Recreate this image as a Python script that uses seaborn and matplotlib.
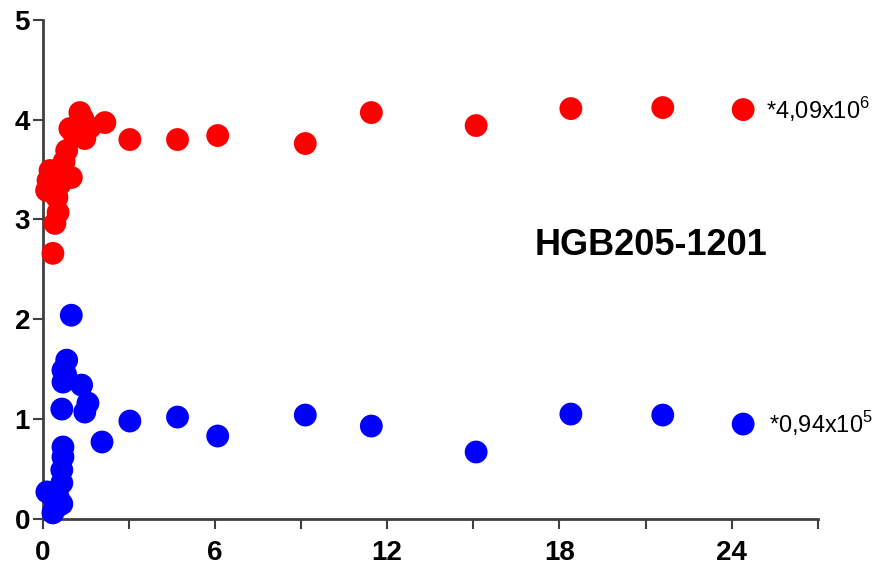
import matplotlib
matplotlib.use("Agg")
import matplotlib.pyplot as plt
import seaborn as sns
import pandas as pd

# red series (upper)
red_x = [0.36, 0.14, 0.19, 0.26, 0.43, 0.50, 0.54, 0.67, 0.84, 0.95, 1.00, 1.30, 1.40,
         1.47, 1.65, 2.17, 3.04, 4.7, 6.1, 9.15, 11.45, 15.1, 18.4, 21.6, 24.4,
         0.30, 0.60, 0.75, 1.10]
red_y = [2.66, 3.29, 3.39, 3.49, 2.96, 3.22, 3.07, 3.49, 3.69, 3.91, 3.42, 4.07, 4.01,
         3.81, 3.92, 3.97, 3.80, 3.80, 3.84, 3.76, 4.07, 3.94, 4.11, 4.12, 4.10,
         3.35, 3.35, 3.58, 3.85]

# blue series (lower)
blue_x = [0.36, 0.50, 0.54, 0.67, 0.15, 0.67, 0.67, 0.71, 0.71, 0.67, 0.71, 0.71, 0.84,
          1.00, 1.36, 1.58, 1.47, 2.07, 3.04, 4.7, 6.1, 9.15, 11.45, 15.1, 18.4, 21.6, 24.4,
          0.40, 0.80]
blue_y = [0.06, 0.12, 0.22, 0.15, 0.27, 0.36, 0.49, 0.62, 0.72, 1.10, 1.37, 1.49, 1.59,
          2.04, 1.34, 1.16, 1.07, 0.77, 0.98, 1.02, 0.83, 1.04, 0.93, 0.67, 1.05, 1.04, 0.95,
          0.20, 1.45]

x_ticks = [0, 3, 6, 9, 12, 15, 18, 21, 24, 27]
x_tick_labels = ["0", "", "6", "", "12", "", "18", "", "24", ""]
y_ticks = [0, 1, 2, 3, 4, 5]

red_label = r"*4,09x10$^6$"
blue_label = r"*0,94x10$^5$"
title = "HGB205-1201"

sns.set_style("ticks")
plt.rcParams["font.family"] = ["Liberation Sans", "DejaVu Sans"]
plt.rcParams["mathtext.fontset"] = "custom"
plt.rcParams["mathtext.rm"] = "Liberation Sans"
plt.rcParams["text.color"] = "black"
plt.rcParams["xtick.color"] = "black"
plt.rcParams["ytick.color"] = "black"

df = pd.concat([
    pd.DataFrame({"x": red_x, "y": red_y, "s": "red"}),
    pd.DataFrame({"x": blue_x, "y": blue_y, "s": "blue"}),
])

fig = plt.figure(figsize=(8.87, 5.64), dpi=100)
ax = fig.add_axes([0.048, 0.080, 0.874, 0.885])

sns.scatterplot(data=df, x="x", y="y", hue="s", palette={"red": "#ff0000", "blue": "#0000ff"},
                s=270, linewidth=0, legend=False, ax=ax, clip_on=False, zorder=3)

ax.set_xlim(0, 27)
ax.set_ylim(0, 5)
ax.set_xticks(x_ticks)
ax.set_xticklabels(x_tick_labels, fontsize=20, fontweight="bold")
ax.set_yticks(y_ticks)
ax.set_yticklabels([str(v) for v in y_ticks], fontsize=20, fontweight="bold")
ax.set_xlabel("")
ax.set_ylabel("")

for sp in ["top", "right"]:
    ax.spines[sp].set_visible(False)
for sp in ["left", "bottom"]:
    ax.spines[sp].set_color("#404040")
    ax.spines[sp].set_linewidth(2)
ax.tick_params(direction="out", length=7, width=1.5, color="#404040")
ax.tick_params(axis="x", pad=8)
ax.tick_params(axis="y", pad=2)

ax.text(21.2, 2.74, title, fontsize=26, fontweight="bold", ha="center", va="center")
ax.text(25.2, 4.10, red_label, fontsize=17, ha="left", va="center")
ax.text(25.3, 0.95, blue_label, fontsize=17, ha="left", va="center")

fig.savefig("out.png", dpi=100)
